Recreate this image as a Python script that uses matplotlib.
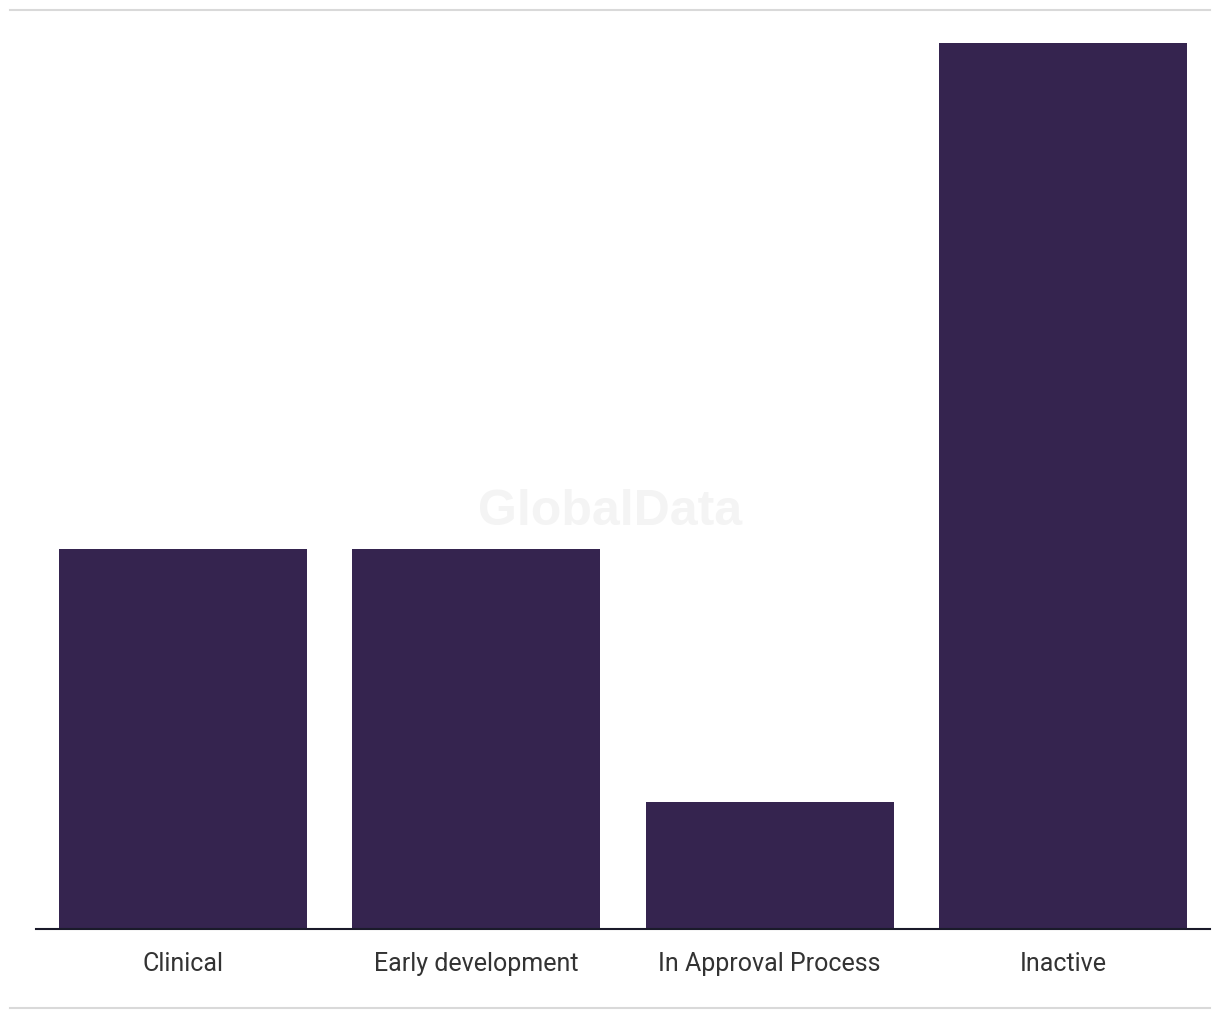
import matplotlib
matplotlib.use('Agg')
import matplotlib.pyplot as plt
from matplotlib.lines import Line2D

# Datos
categorias = ['Clinical', 'Early development', 'In Approval Process', 'Inactive']
valores = [3, 3, 1, 7]

plt.rcParams['font.family'] = ['Roboto', 'DejaVu Sans']

fig = plt.figure(figsize=(12.2, 10.2), dpi=100)
ax = fig.add_axes([36 / 1220, (1020 - 930) / 1020, (1210 - 36) / 1220, (930 - 44) / 1020])

x = range(len(categorias))
ax.bar(x, valores, width=0.845, color='#35244F', zorder=2)

ax.set_xlim(-0.5, len(categorias) - 0.5)
ax.set_ylim(0, max(valores))
ax.set_xticks(list(x))
ax.set_xticklabels(categorias, fontsize=18, color='#333333')
ax.tick_params(axis='x', length=0, pad=16)
ax.set_yticks([])

for lado in ['top', 'right', 'left']:
    ax.spines[lado].set_visible(False)
ax.spines['bottom'].set_color('#1a1a2a')
ax.spines['bottom'].set_linewidth(1.5)
ax.spines['bottom'].set_zorder(3)

# Marca de agua
fig.text(610 / 1220, 1 - 512 / 1020, 'GlobalData', fontsize=36, fontweight='bold',
         color='#f4f4f4', ha='center', va='center', family='Liberation Sans', zorder=1)

# Líneas grises arriba y abajo
for yp in [11, 1009]:
    fig.add_artist(Line2D([10 / 1220, 1210 / 1220], [1 - yp / 1020, 1 - yp / 1020],
                          color='#d9d9d9', linewidth=1.5, transform=fig.transFigure))

fig.savefig('out.png', dpi=100)
